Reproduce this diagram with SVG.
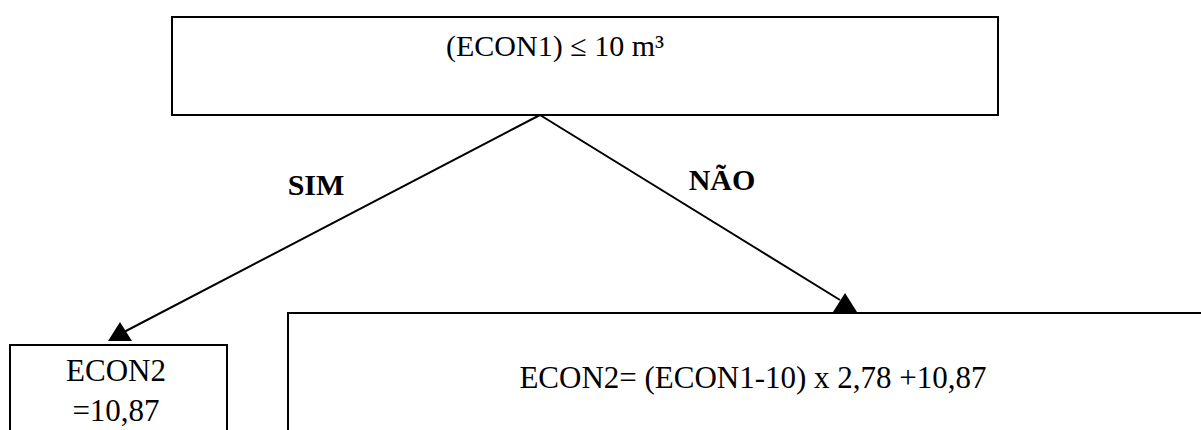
<svg xmlns="http://www.w3.org/2000/svg" width="1201" height="430" viewBox="0 0 1201 430">
<style>
.box{fill:#fff;stroke:#000;stroke-width:2}
.t{font-family:"Liberation Serif","Times New Roman",serif;fill:#000;text-anchor:middle}
.b{font-weight:bold}
.ln{stroke:#000;stroke-width:2;fill:none}
.ah{fill:#000}
</style>
<rect width="1201" height="430" fill="#fff"/>
<g id="n-cond">
<rect class="box" x="172" y="17" width="826" height="98"/>
<text class="t" x="555" y="56" font-size="30">(ECON1) ≤ 10 m³</text>
</g>
<g id="n-sim">
<rect class="box" x="10" y="345" width="217" height="120"/>
<text class="t" x="116" y="381" font-size="31">ECON2</text>
<text class="t" x="116" y="421" font-size="31">=10,87</text>
</g>
<g id="n-nao">
<rect class="box" x="288" y="313" width="960" height="160"/>
<text class="t" x="753" y="388" font-size="31">ECON2= (ECON1-10) x 2,78 +10,87</text>
</g>
<g id="connectors">
<line class="ln" x1="540" y1="115" x2="124" y2="332"/>
<polygon class="ah" points="120,322 108,341 132,341"/>
<line class="ln" x1="540" y1="115" x2="840" y2="300"/>
<polygon class="ah" points="845,293 833,312 857,312"/>
<text class="t b" x="316" y="195" font-size="30">SIM</text>
<text class="t b" x="722" y="190" font-size="30">NÃO</text>
</g>
</svg>
